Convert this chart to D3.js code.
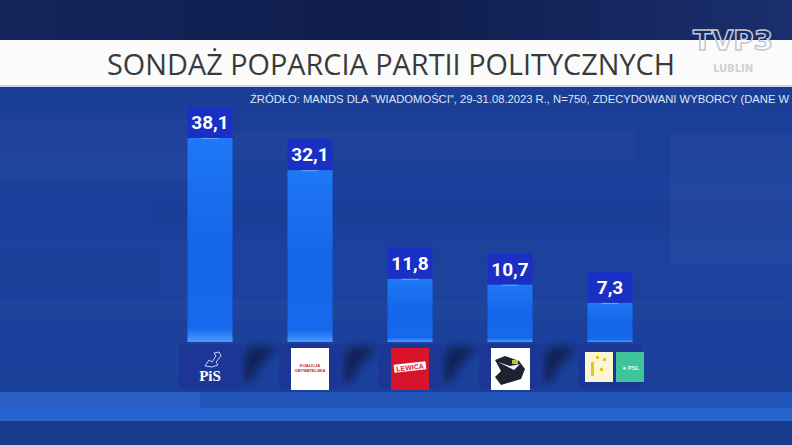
<!DOCTYPE html>
<html>
<head>
<meta charset="utf-8">
<script src="https://cdn.jsdelivr.net/npm/d3@7"></script>
<style>
  body { margin: 0; background: #1b3f98; }
  svg { display: block; }
</style>
</head>
<body>
<svg class="chart"></svg>
<script>
var parties = ["PiS", "KO", "Lewica", "Konfederacja", "Trzecia Droga"];
var support = [38.1, 32.1, 11.8, 10.7, 7.3];
var title = "SONDAŻ POPARCIA PARTII POLITYCZNYCH";
var source = "ŹRÓDŁO: MANDS DLA \"WIADOMOŚCI\", 29-31.08.2023 R., N=750, ZDECYDOWANI WYBORCY (DANE W %)";

var width = 792, height = 445;
var base = 342;       // bottom of the bars
var labelH = 31;      // dark box holding the value

var data = parties.map((p, i) => ({party: p, value: support[i]}));

var x = d3.scaleBand()
	.domain(parties)
	.range([160, 660])
	.paddingInner(0.55)
	.paddingOuter(0.275);

var y = d3.scaleLinear()
	.domain([0, 38.1])
	.range([base, base - 204]);

var fmt = d3.formatLocale({decimal: ",", thousands: " ", grouping: [3], currency: ["", ""]}).format(".1f");

var svg = d3.select(".chart")
	.attr("width", width)
	.attr("height", height);

var defs = svg.append("defs");

var bg = defs.append("linearGradient").attr("id", "bg").attr("x1", 0).attr("y1", 0).attr("x2", 0).attr("y2", 1);
bg.append("stop").attr("offset", "0%").attr("stop-color", "#1a3b92");
bg.append("stop").attr("offset", "60%").attr("stop-color", "#1c429e");
bg.append("stop").attr("offset", "100%").attr("stop-color", "#1b3f98");

var topbg = defs.append("linearGradient").attr("id", "topbg").attr("x1", 0).attr("y1", 0).attr("x2", 1).attr("y2", 0);
topbg.append("stop").attr("offset", "0%").attr("stop-color", "#14255c");
topbg.append("stop").attr("offset", "50%").attr("stop-color", "#0f1d4c");
topbg.append("stop").attr("offset", "100%").attr("stop-color", "#1a2f6e");

var barg = defs.append("linearGradient").attr("id", "barg").attr("x1", 0).attr("y1", 0).attr("x2", 0).attr("y2", 1);
barg.append("stop").attr("offset", "0%").attr("stop-color", "#1f78f5");
barg.append("stop").attr("offset", "50%").attr("stop-color", "#1466ea");
barg.append("stop").attr("offset", "93%").attr("stop-color", "#1669ec");
barg.append("stop").attr("offset", "100%").attr("stop-color", "#4a9bff");

var blur = defs.append("filter").attr("id", "blur").attr("x", "-50%").attr("y", "-50%").attr("width", "200%").attr("height", "200%");
blur.append("feGaussianBlur").attr("stdDeviation", 4);

// backdrop
svg.append("rect").attr("width", width).attr("height", height).attr("fill", "url(#bg)");
svg.append("rect").attr("width", width).attr("height", 42).attr("fill", "url(#topbg)");

// soft panels in the backdrop
var panels = [[0, 120, 210, 60, 0.025], [215, 130, 420, 30, 0.02], [670, 135, 122, 130, 0.03],
	[0, 250, 160, 40, -0.03], [0, 300, 790, 20, 0.015], [150, 200, 640, 35, -0.025]];
svg.selectAll(".panel")
	.data(panels)
	.enter()
	.append("rect")
	.attr("x", d => d[0]).attr("y", d => d[1])
	.attr("width", d => d[2]).attr("height", d => d[3])
	.attr("fill", d => d[4] > 0 ? "#ffffff" : "#000000")
	.attr("opacity", d => Math.abs(d[4]));

// bottom strips
svg.append("rect").attr("x", 0).attr("y", 392).attr("width", width).attr("height", 16).attr("fill", "#2253b8");
svg.append("rect").attr("x", 0).attr("y", 392).attr("width", 200).attr("height", 16).attr("fill", "#295ec4");
svg.append("rect").attr("x", 0).attr("y", 408).attr("width", width).attr("height", 13).attr("fill", "#2864cf");
svg.append("rect").attr("x", 0).attr("y", 421).attr("width", width).attr("height", 24).attr("fill", "#1a3c8f");

// title banner
svg.append("rect").attr("x", 0).attr("y", 40).attr("width", width).attr("height", 46).attr("fill", "#fbfbfb");
svg.append("rect").attr("x", 0).attr("y", 85).attr("width", width).attr("height", 2).attr("fill", "#c9d4ec");

svg.append("text")
	.attr("x", 107)
	.attr("y", 75)
	.attr("textLength", 568)
	.attr("lengthAdjust", "spacingAndGlyphs")
	.attr("font-family", "Open Sans, sans-serif")
	.attr("font-size", 30)
	.attr("fill", "#3a3a3a")
	.text(title);

// channel mark
svg.append("text")
	.attr("x", 693).attr("y", 50)
	.attr("textLength", 80)
	.attr("lengthAdjust", "spacingAndGlyphs")
	.attr("font-family", "DejaVu Sans, sans-serif")
	.attr("font-weight", "bold")
	.attr("font-size", 26)
	.attr("fill", "none")
	.attr("stroke", "#c4c8d0")
	.attr("stroke-width", 1.4)
	.text("TVP3");
svg.append("text")
	.attr("x", 733).attr("y", 72)
	.attr("text-anchor", "middle")
	.attr("font-family", "DejaVu Sans, sans-serif")
	.attr("font-weight", "bold")
	.attr("font-size", 10)
	.attr("fill", "#cfd2d8")
	.text("LUBLIN");

// source line
svg.append("text")
	.attr("x", 250)
	.attr("y", 103)
	.attr("textLength", 556)
	.attr("lengthAdjust", "spacingAndGlyphs")
	.attr("font-family", "Liberation Sans Narrow, Liberation Sans, sans-serif")
	.attr("font-size", 10.5)
	.attr("fill", "#dfe6f7")
	.text(source);

// shadows cast between the pedestals
svg.selectAll(".shadow")
	.data(data.slice(0, 4))
	.enter()
	.append("path")
	.attr("fill", "#08163f")
	.attr("opacity", 0.75)
	.attr("filter", "url(#blur)")
	.attr("d", d => {
		var x0 = x(d.party) + x.bandwidth() + 10;
		return "M" + (x0 + 4) + "," + (base + 6) + "Q" + (x0 + 30) + "," + (base + 2) + " " + (x0 + 34) + "," + (base + 8) +
			"Q" + (x0 + 16) + "," + (base + 20) + " " + (x0 + 8) + "," + (base + 40) + "L" + x0 + "," + (base + 40) + "Z";
	});

// pedestals
svg.selectAll(".pedestal")
	.data(data)
	.enter()
	.append("rect")
	.attr("x", d => x(d.party) + x.bandwidth() / 2 - 31)
	.attr("y", base + 2)
	.attr("width", 62)
	.attr("height", 45)
	.attr("fill", "#1b3694");

// value boxes
svg.selectAll(".labelbox")
	.data(data)
	.enter()
	.append("rect")
	.attr("x", d => x(d.party))
	.attr("y", d => y(d.value) - labelH)
	.attr("width", x.bandwidth())
	.attr("height", labelH)
	.attr("fill", "#1a2fc4");

// bars
svg.selectAll(".bar")
	.data(data)
	.enter()
	.append("rect")
	.attr("x", d => x(d.party))
	.attr("y", d => y(d.value))
	.attr("width", x.bandwidth())
	.attr("height", d => base - y(d.value))
	.attr("fill", "url(#barg)");

svg.selectAll(".barline")
	.data(data)
	.enter()
	.append("rect")
	.attr("x", d => x(d.party) + 14)
	.attr("y", d => y(d.value))
	.attr("width", x.bandwidth() - 28)
	.attr("height", 1)
	.attr("fill", "#9cc4ff")
	.attr("opacity", 0.6);

svg.selectAll(".value")
	.data(data)
	.enter()
	.append("text")
	.attr("x", d => x(d.party) + x.bandwidth() / 2)
	.attr("y", d => y(d.value) - 9)
	.attr("text-anchor", "middle")
	.attr("font-family", "Roboto, sans-serif")
	.attr("font-weight", "bold")
	.attr("font-size", 19)
	.attr("fill", "#ffffff")
	.text(d => fmt(d.value));

// party logos
var cx = p => x(p) + x.bandwidth() / 2;
var logos = svg.append("g");

// PiS
logos.append("path")
	.attr("d", "M" + (cx("PiS") - 5) + ",366 l4,-6 l3,2 l4,-6 l-2,-3 l5,-1 l2,4 l-5,6 l2,3 l-6,2 z")
	.attr("fill", "none").attr("stroke", "#c8d2ff").attr("stroke-width", 1);
logos.append("text")
	.attr("x", cx("PiS")).attr("y", 381)
	.attr("text-anchor", "middle")
	.attr("font-family", "Liberation Serif, serif")
	.attr("font-weight", "bold")
	.attr("font-size", 15)
	.attr("fill", "#ffffff")
	.text("PiS");

// KO
logos.append("rect").attr("x", cx("KO") - 19).attr("y", 348).attr("width", 38).attr("height", 42).attr("fill", "#ffffff");
logos.append("text").attr("x", cx("KO")).attr("y", 367).attr("text-anchor", "middle")
	.attr("font-family", "Liberation Sans, sans-serif").attr("font-weight", "bold").attr("font-size", 4).attr("fill", "#c0262d").text("KOALICJA");
logos.append("text").attr("x", cx("KO")).attr("y", 372).attr("text-anchor", "middle")
	.attr("font-family", "Liberation Sans, sans-serif").attr("font-weight", "bold").attr("font-size", 4).attr("fill", "#c0262d").text("OBYWATELSKA");

// Lewica
logos.append("rect").attr("x", cx("Lewica") - 19).attr("y", 348).attr("width", 38).attr("height", 42).attr("fill", "#d8142c");
logos.append("rect").attr("x", cx("Lewica") - 16).attr("y", 363).attr("width", 32).attr("height", 8).attr("fill", "#ffffff")
	.attr("transform", "rotate(-6," + cx("Lewica") + ",367)");
logos.append("text").attr("x", cx("Lewica")).attr("y", 370).attr("text-anchor", "middle")
	.attr("transform", "rotate(-6," + cx("Lewica") + ",367)")
	.attr("font-family", "Liberation Sans, sans-serif").attr("font-weight", "bold").attr("font-size", 7).attr("fill", "#d8142c").text("LEWICA");

// Konfederacja
logos.append("rect").attr("x", cx("Konfederacja") - 19).attr("y", 348).attr("width", 39).attr("height", 42).attr("fill", "#ffffff");
logos.append("path")
	.attr("d", "M" + (cx("Konfederacja") - 15) + ",360 l10,-4 l14,5 l6,8 l-4,10 l-20,6 l-6,-8 l6,-6 z")
	.attr("fill", "#1c2230");
logos.append("path")
	.attr("d", "M" + (cx("Konfederacja") - 12) + ",362 l12,4 l10,-2 l-6,6 z")
	.attr("fill", "#f2f2f2");
logos.append("rect").attr("x", cx("Konfederacja") + 2).attr("y", 360).attr("width", 6).attr("height", 4).attr("fill", "#b9c43a");

// Trzecia Droga: Polska 2050 + PSL
logos.append("rect").attr("x", cx("Trzecia Droga") - 25).attr("y", 352).attr("width", 28).attr("height", 30).attr("fill", "#fbf6d2");
logos.append("rect").attr("x", cx("Trzecia Droga") - 19).attr("y", 362).attr("width", 3).attr("height", 14).attr("fill", "#e6c51c");
logos.append("rect").attr("x", cx("Trzecia Droga") - 14).attr("y", 356).attr("width", 3).attr("height", 3).attr("fill", "#e6c51c");
logos.append("rect").attr("x", cx("Trzecia Droga") - 7).attr("y", 358).attr("width", 3).attr("height", 3).attr("fill", "#e6c51c");
logos.append("rect").attr("x", cx("Trzecia Droga") - 10).attr("y", 368).attr("width", 3).attr("height", 3).attr("fill", "#e6c51c");
logos.append("rect").attr("x", cx("Trzecia Droga") + 6).attr("y", 352).attr("width", 28).attr("height", 30).attr("fill", "#3fc39a");
logos.append("text").attr("x", cx("Trzecia Droga") + 21).attr("y", 370).attr("text-anchor", "middle")
	.attr("font-family", "Liberation Sans, sans-serif").attr("font-weight", "bold").attr("font-size", 6).attr("fill", "#e8fff6").text("● PSL");
</script>
</body>
</html>
